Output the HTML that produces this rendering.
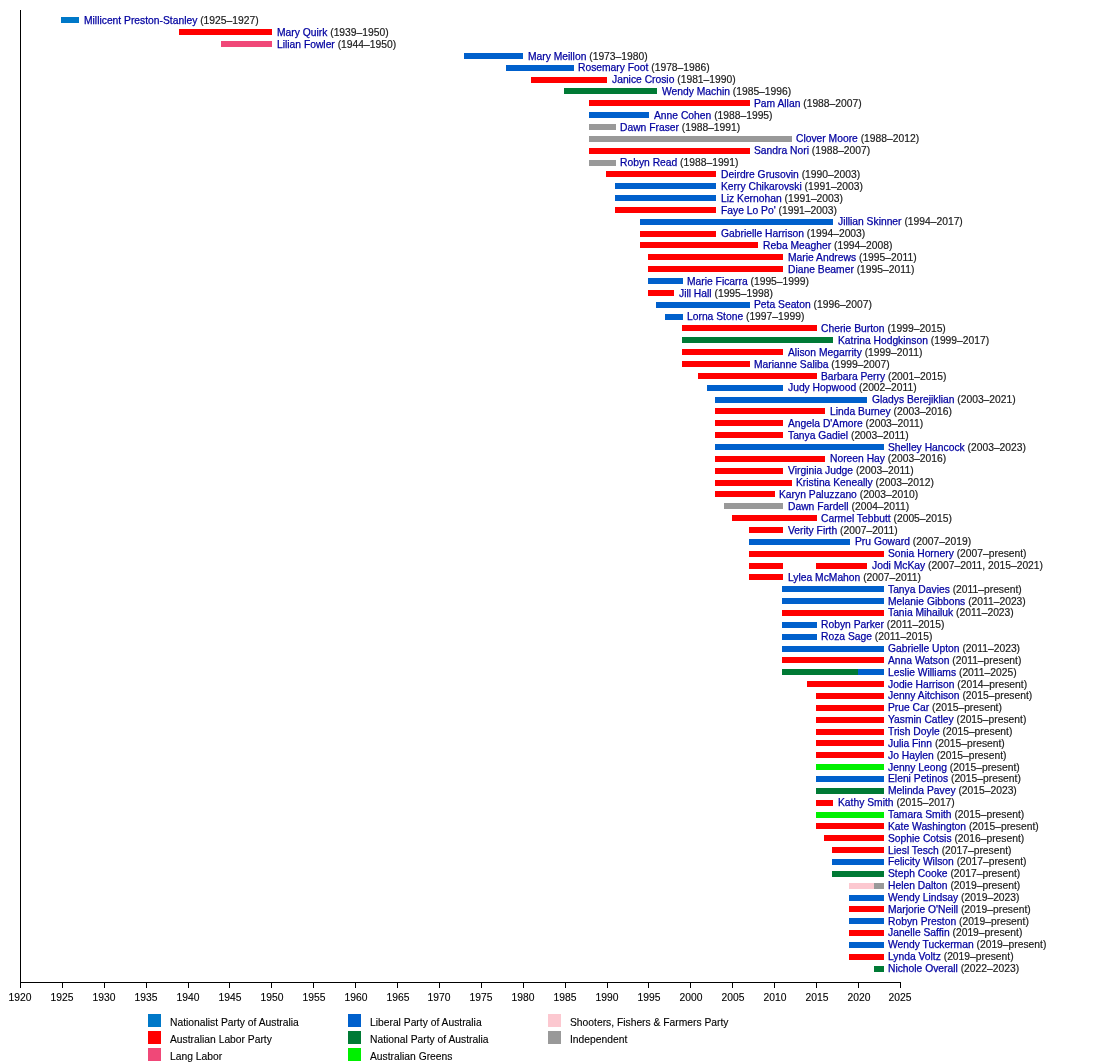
<!DOCTYPE html>
<html><head><meta charset="utf-8"><style>
html,body{margin:0;padding:0;background:#fff;}
body{width:1100px;height:1062px;position:relative;overflow:hidden;font-family:"Liberation Sans",sans-serif;}
.b{position:absolute;height:6px;}
.l{position:absolute;white-space:nowrap;-webkit-text-stroke:0.25px currentColor;will-change:transform;font-size:10.3px;line-height:12px;color:#0000a0;}
.l span{color:#1a1a1a;-webkit-text-stroke:0.18px currentColor;}
.ax{position:absolute;background:#000;}
.t{position:absolute;-webkit-text-stroke:0.12px currentColor;will-change:transform;font-size:10.3px;line-height:12px;color:#000;width:40px;text-align:center;}
.sq{position:absolute;width:13px;height:13px;}
.lg{position:absolute;-webkit-text-stroke:0.12px currentColor;will-change:transform;font-size:10.3px;line-height:12px;color:#000;white-space:nowrap;}
</style></head><body>

<div class="b" style="left:61.00px;top:17.00px;width:18.00px;background:#0078c8"></div>
<div class="l" style="left:83.87px;top:15.00px">Millicent Preston-Stanley <span>(1925–1927)</span></div>
<div class="b" style="left:179.00px;top:29.00px;width:93.00px;background:#ff0000"></div>
<div class="l" style="left:276.63px;top:27.00px">Mary Quirk <span>(1939–1950)</span></div>
<div class="b" style="left:221.00px;top:41.00px;width:51.00px;background:#f04878"></div>
<div class="l" style="left:276.63px;top:39.00px">Lilian Fowler <span>(1944–1950)</span></div>
<div class="b" style="left:464.00px;top:53.00px;width:59.00px;background:#0060cc"></div>
<div class="l" style="left:528.06px;top:51.00px">Mary Meillon <span>(1973–1980)</span></div>
<div class="b" style="left:506.00px;top:65.00px;width:68.00px;background:#0060cc"></div>
<div class="l" style="left:578.35px;top:62.00px">Rosemary Foot <span>(1978–1986)</span></div>
<div class="b" style="left:531.00px;top:77.00px;width:76.00px;background:#ff0000"></div>
<div class="l" style="left:611.87px;top:74.00px">Janice Crosio <span>(1981–1990)</span></div>
<div class="b" style="left:564.00px;top:88.00px;width:93.00px;background:#007a35"></div>
<div class="l" style="left:662.16px;top:86.00px">Wendy Machin <span>(1985–1996)</span></div>
<div class="b" style="left:589.00px;top:100.00px;width:161.00px;background:#ff0000"></div>
<div class="l" style="left:754.35px;top:98.00px">Pam Allan <span>(1988–2007)</span></div>
<div class="b" style="left:589.00px;top:112.00px;width:60.00px;background:#0060cc"></div>
<div class="l" style="left:653.78px;top:110.00px">Anne Cohen <span>(1988–1995)</span></div>
<div class="b" style="left:589.00px;top:124.00px;width:27.00px;background:#999999"></div>
<div class="l" style="left:620.25px;top:122.00px">Dawn Fraser <span>(1988–1991)</span></div>
<div class="b" style="left:589.00px;top:136.00px;width:203.00px;background:#999999"></div>
<div class="l" style="left:796.25px;top:133.00px">Clover Moore <span>(1988–2012)</span></div>
<div class="b" style="left:589.00px;top:148.00px;width:161.00px;background:#ff0000"></div>
<div class="l" style="left:754.35px;top:145.00px">Sandra Nori <span>(1988–2007)</span></div>
<div class="b" style="left:589.00px;top:160.00px;width:27.00px;background:#999999"></div>
<div class="l" style="left:620.25px;top:157.00px">Robyn Read <span>(1988–1991)</span></div>
<div class="b" style="left:606.00px;top:171.00px;width:110.00px;background:#ff0000"></div>
<div class="l" style="left:720.82px;top:169.00px">Deirdre Grusovin <span>(1990–2003)</span></div>
<div class="b" style="left:615.00px;top:183.00px;width:101.00px;background:#0060cc"></div>
<div class="l" style="left:720.82px;top:181.00px">Kerry Chikarovski <span>(1991–2003)</span></div>
<div class="b" style="left:615.00px;top:195.00px;width:101.00px;background:#0060cc"></div>
<div class="l" style="left:720.82px;top:193.00px">Liz Kernohan <span>(1991–2003)</span></div>
<div class="b" style="left:615.00px;top:207.00px;width:101.00px;background:#ff0000"></div>
<div class="l" style="left:720.82px;top:205.00px">Faye Lo Po&#39; <span>(1991–2003)</span></div>
<div class="b" style="left:640.00px;top:219.00px;width:193.00px;background:#0060cc"></div>
<div class="l" style="left:838.16px;top:216.00px">Jillian Skinner <span>(1994–2017)</span></div>
<div class="b" style="left:640.00px;top:231.00px;width:76.00px;background:#ff0000"></div>
<div class="l" style="left:720.82px;top:228.00px">Gabrielle Harrison <span>(1994–2003)</span></div>
<div class="b" style="left:640.00px;top:242.00px;width:118.00px;background:#ff0000"></div>
<div class="l" style="left:762.73px;top:240.00px">Reba Meagher <span>(1994–2008)</span></div>
<div class="b" style="left:648.00px;top:254.00px;width:135.00px;background:#ff0000"></div>
<div class="l" style="left:787.87px;top:252.00px">Marie Andrews <span>(1995–2011)</span></div>
<div class="b" style="left:648.00px;top:266.00px;width:135.00px;background:#ff0000"></div>
<div class="l" style="left:787.87px;top:264.00px">Diane Beamer <span>(1995–2011)</span></div>
<div class="b" style="left:648.00px;top:278.00px;width:35.00px;background:#0060cc"></div>
<div class="l" style="left:687.30px;top:276.00px">Marie Ficarra <span>(1995–1999)</span></div>
<div class="b" style="left:648.00px;top:290.00px;width:26.00px;background:#ff0000"></div>
<div class="l" style="left:678.92px;top:288.00px">Jill Hall <span>(1995–1998)</span></div>
<div class="b" style="left:656.00px;top:302.00px;width:94.00px;background:#0060cc"></div>
<div class="l" style="left:754.35px;top:299.00px">Peta Seaton <span>(1996–2007)</span></div>
<div class="b" style="left:665.00px;top:314.00px;width:18.00px;background:#0060cc"></div>
<div class="l" style="left:687.30px;top:311.00px">Lorna Stone <span>(1997–1999)</span></div>
<div class="b" style="left:682.00px;top:325.00px;width:135.00px;background:#ff0000"></div>
<div class="l" style="left:821.40px;top:323.00px">Cherie Burton <span>(1999–2015)</span></div>
<div class="b" style="left:682.00px;top:337.00px;width:151.00px;background:#007a35"></div>
<div class="l" style="left:838.16px;top:335.00px">Katrina Hodgkinson <span>(1999–2017)</span></div>
<div class="b" style="left:682.00px;top:349.00px;width:101.00px;background:#ff0000"></div>
<div class="l" style="left:787.87px;top:347.00px">Alison Megarrity <span>(1999–2011)</span></div>
<div class="b" style="left:682.00px;top:361.00px;width:68.00px;background:#ff0000"></div>
<div class="l" style="left:754.35px;top:359.00px">Marianne Saliba <span>(1999–2007)</span></div>
<div class="b" style="left:698.00px;top:373.00px;width:119.00px;background:#ff0000"></div>
<div class="l" style="left:821.40px;top:371.00px">Barbara Perry <span>(2001–2015)</span></div>
<div class="b" style="left:707.00px;top:385.00px;width:76.00px;background:#0060cc"></div>
<div class="l" style="left:787.87px;top:382.00px">Judy Hopwood <span>(2002–2011)</span></div>
<div class="b" style="left:715.00px;top:397.00px;width:152.00px;background:#0060cc"></div>
<div class="l" style="left:871.68px;top:394.00px">Gladys Berejiklian <span>(2003–2021)</span></div>
<div class="b" style="left:715.00px;top:408.00px;width:110.00px;background:#ff0000"></div>
<div class="l" style="left:829.78px;top:406.00px">Linda Burney <span>(2003–2016)</span></div>
<div class="b" style="left:715.00px;top:420.00px;width:68.00px;background:#ff0000"></div>
<div class="l" style="left:787.87px;top:418.00px">Angela D&#39;Amore <span>(2003–2011)</span></div>
<div class="b" style="left:715.00px;top:432.00px;width:68.00px;background:#ff0000"></div>
<div class="l" style="left:787.87px;top:430.00px">Tanya Gadiel <span>(2003–2011)</span></div>
<div class="b" style="left:715.00px;top:444.00px;width:169.00px;background:#0060cc"></div>
<div class="l" style="left:888.44px;top:442.00px">Shelley Hancock <span>(2003–2023)</span></div>
<div class="b" style="left:715.00px;top:456.00px;width:110.00px;background:#ff0000"></div>
<div class="l" style="left:829.78px;top:453.00px">Noreen Hay <span>(2003–2016)</span></div>
<div class="b" style="left:715.00px;top:468.00px;width:68.00px;background:#ff0000"></div>
<div class="l" style="left:787.87px;top:465.00px">Virginia Judge <span>(2003–2011)</span></div>
<div class="b" style="left:715.00px;top:480.00px;width:77.00px;background:#ff0000"></div>
<div class="l" style="left:796.25px;top:477.00px">Kristina Keneally <span>(2003–2012)</span></div>
<div class="b" style="left:715.00px;top:491.00px;width:60.00px;background:#ff0000"></div>
<div class="l" style="left:779.49px;top:489.00px">Karyn Paluzzano <span>(2003–2010)</span></div>
<div class="b" style="left:724.00px;top:503.00px;width:59.00px;background:#999999"></div>
<div class="l" style="left:787.87px;top:501.00px">Dawn Fardell <span>(2004–2011)</span></div>
<div class="b" style="left:732.00px;top:515.00px;width:85.00px;background:#ff0000"></div>
<div class="l" style="left:821.40px;top:513.00px">Carmel Tebbutt <span>(2005–2015)</span></div>
<div class="b" style="left:749.00px;top:527.00px;width:34.00px;background:#ff0000"></div>
<div class="l" style="left:787.87px;top:525.00px">Verity Firth <span>(2007–2011)</span></div>
<div class="b" style="left:749.00px;top:539.00px;width:101.00px;background:#0060cc"></div>
<div class="l" style="left:854.92px;top:536.00px">Pru Goward <span>(2007–2019)</span></div>
<div class="b" style="left:749.00px;top:551.00px;width:135.00px;background:#ff0000"></div>
<div class="l" style="left:888.44px;top:548.00px">Sonia Hornery <span>(2007–present)</span></div>
<div class="b" style="left:749.00px;top:563.00px;width:34.00px;background:#ff0000"></div>
<div class="b" style="left:816.00px;top:563.00px;width:51.00px;background:#ff0000"></div>
<div class="l" style="left:871.68px;top:560.00px">Jodi McKay <span>(2007–2011, 2015–2021)</span></div>
<div class="b" style="left:749.00px;top:574.00px;width:34.00px;background:#ff0000"></div>
<div class="l" style="left:787.87px;top:572.00px">Lylea McMahon <span>(2007–2011)</span></div>
<div class="b" style="left:782.00px;top:586.00px;width:102.00px;background:#0060cc"></div>
<div class="l" style="left:888.44px;top:584.00px">Tanya Davies <span>(2011–present)</span></div>
<div class="b" style="left:782.00px;top:598.00px;width:102.00px;background:#0060cc"></div>
<div class="l" style="left:888.44px;top:596.00px">Melanie Gibbons <span>(2011–2023)</span></div>
<div class="b" style="left:782.00px;top:610.00px;width:102.00px;background:#ff0000"></div>
<div class="l" style="left:888.44px;top:607.00px">Tania Mihailuk <span>(2011–2023)</span></div>
<div class="b" style="left:782.00px;top:622.00px;width:35.00px;background:#0060cc"></div>
<div class="l" style="left:821.40px;top:619.00px">Robyn Parker <span>(2011–2015)</span></div>
<div class="b" style="left:782.00px;top:634.00px;width:35.00px;background:#0060cc"></div>
<div class="l" style="left:821.40px;top:631.00px">Roza Sage <span>(2011–2015)</span></div>
<div class="b" style="left:782.00px;top:646.00px;width:102.00px;background:#0060cc"></div>
<div class="l" style="left:888.44px;top:643.00px">Gabrielle Upton <span>(2011–2023)</span></div>
<div class="b" style="left:782.00px;top:657.00px;width:102.00px;background:#ff0000"></div>
<div class="l" style="left:888.44px;top:655.00px">Anna Watson <span>(2011–present)</span></div>
<div class="b" style="left:782.00px;top:669.00px;width:77.00px;background:#007a35"></div>
<div class="b" style="left:858.00px;top:669.00px;width:26.00px;background:#0060cc"></div>
<div class="l" style="left:888.44px;top:667.00px">Leslie Williams <span>(2011–2025)</span></div>
<div class="b" style="left:807.00px;top:681.00px;width:77.00px;background:#ff0000"></div>
<div class="l" style="left:888.44px;top:679.00px">Jodie Harrison <span>(2014–present)</span></div>
<div class="b" style="left:816.00px;top:693.00px;width:68.00px;background:#ff0000"></div>
<div class="l" style="left:888.44px;top:690.00px">Jenny Aitchison <span>(2015–present)</span></div>
<div class="b" style="left:816.00px;top:705.00px;width:68.00px;background:#ff0000"></div>
<div class="l" style="left:888.44px;top:702.00px">Prue Car <span>(2015–present)</span></div>
<div class="b" style="left:816.00px;top:717.00px;width:68.00px;background:#ff0000"></div>
<div class="l" style="left:888.44px;top:714.00px">Yasmin Catley <span>(2015–present)</span></div>
<div class="b" style="left:816.00px;top:729.00px;width:68.00px;background:#ff0000"></div>
<div class="l" style="left:888.44px;top:726.00px">Trish Doyle <span>(2015–present)</span></div>
<div class="b" style="left:816.00px;top:740.00px;width:68.00px;background:#ff0000"></div>
<div class="l" style="left:888.44px;top:738.00px">Julia Finn <span>(2015–present)</span></div>
<div class="b" style="left:816.00px;top:752.00px;width:68.00px;background:#ff0000"></div>
<div class="l" style="left:888.44px;top:750.00px">Jo Haylen <span>(2015–present)</span></div>
<div class="b" style="left:816.00px;top:764.00px;width:68.00px;background:#00f000"></div>
<div class="l" style="left:888.44px;top:762.00px">Jenny Leong <span>(2015–present)</span></div>
<div class="b" style="left:816.00px;top:776.00px;width:68.00px;background:#0060cc"></div>
<div class="l" style="left:888.44px;top:773.00px">Eleni Petinos <span>(2015–present)</span></div>
<div class="b" style="left:816.00px;top:788.00px;width:68.00px;background:#007a35"></div>
<div class="l" style="left:888.44px;top:785.00px">Melinda Pavey <span>(2015–2023)</span></div>
<div class="b" style="left:816.00px;top:800.00px;width:17.00px;background:#ff0000"></div>
<div class="l" style="left:838.16px;top:797.00px">Kathy Smith <span>(2015–2017)</span></div>
<div class="b" style="left:816.00px;top:812.00px;width:68.00px;background:#00f000"></div>
<div class="l" style="left:888.44px;top:809.00px">Tamara Smith <span>(2015–present)</span></div>
<div class="b" style="left:816.00px;top:823.00px;width:68.00px;background:#ff0000"></div>
<div class="l" style="left:888.44px;top:821.00px">Kate Washington <span>(2015–present)</span></div>
<div class="b" style="left:824.00px;top:835.00px;width:60.00px;background:#ff0000"></div>
<div class="l" style="left:888.44px;top:833.00px">Sophie Cotsis <span>(2016–present)</span></div>
<div class="b" style="left:832.00px;top:847.00px;width:52.00px;background:#ff0000"></div>
<div class="l" style="left:888.44px;top:845.00px">Liesl Tesch <span>(2017–present)</span></div>
<div class="b" style="left:832.00px;top:859.00px;width:52.00px;background:#0060cc"></div>
<div class="l" style="left:888.44px;top:856.00px">Felicity Wilson <span>(2017–present)</span></div>
<div class="b" style="left:832.00px;top:871.00px;width:52.00px;background:#007a35"></div>
<div class="l" style="left:888.44px;top:868.00px">Steph Cooke <span>(2017–present)</span></div>
<div class="b" style="left:849.00px;top:883.00px;width:26.00px;background:#fcc8d0"></div>
<div class="b" style="left:874.00px;top:883.00px;width:10.00px;background:#999999"></div>
<div class="l" style="left:888.44px;top:880.00px">Helen Dalton <span>(2019–present)</span></div>
<div class="b" style="left:849.00px;top:895.00px;width:35.00px;background:#0060cc"></div>
<div class="l" style="left:888.44px;top:892.00px">Wendy Lindsay <span>(2019–2023)</span></div>
<div class="b" style="left:849.00px;top:906.00px;width:35.00px;background:#ff0000"></div>
<div class="l" style="left:888.44px;top:904.00px">Marjorie O&#39;Neill <span>(2019–present)</span></div>
<div class="b" style="left:849.00px;top:918.00px;width:35.00px;background:#0060cc"></div>
<div class="l" style="left:888.44px;top:916.00px">Robyn Preston <span>(2019–present)</span></div>
<div class="b" style="left:849.00px;top:930.00px;width:35.00px;background:#ff0000"></div>
<div class="l" style="left:888.44px;top:927.00px">Janelle Saffin <span>(2019–present)</span></div>
<div class="b" style="left:849.00px;top:942.00px;width:35.00px;background:#0060cc"></div>
<div class="l" style="left:888.44px;top:939.00px">Wendy Tuckerman <span>(2019–present)</span></div>
<div class="b" style="left:849.00px;top:954.00px;width:35.00px;background:#ff0000"></div>
<div class="l" style="left:888.44px;top:951.00px">Lynda Voltz <span>(2019–present)</span></div>
<div class="b" style="left:874.00px;top:966.00px;width:10.00px;background:#007a35"></div>
<div class="l" style="left:888.44px;top:963.00px">Nichole Overall <span>(2022–2023)</span></div>
<div class="ax" style="left:20px;top:10px;width:1px;height:973px"></div>
<div class="ax" style="left:20px;top:982px;width:881px;height:1px"></div>
<div class="ax" style="left:19.90px;top:983px;width:1px;height:5px"></div>
<div class="t" style="left:0.40px;top:992px">1920</div>
<div class="ax" style="left:61.80px;top:983px;width:1px;height:5px"></div>
<div class="t" style="left:42.30px;top:992px">1925</div>
<div class="ax" style="left:103.71px;top:983px;width:1px;height:5px"></div>
<div class="t" style="left:84.21px;top:992px">1930</div>
<div class="ax" style="left:145.62px;top:983px;width:1px;height:5px"></div>
<div class="t" style="left:126.12px;top:992px">1935</div>
<div class="ax" style="left:187.52px;top:983px;width:1px;height:5px"></div>
<div class="t" style="left:168.02px;top:992px">1940</div>
<div class="ax" style="left:229.43px;top:983px;width:1px;height:5px"></div>
<div class="t" style="left:209.93px;top:992px">1945</div>
<div class="ax" style="left:271.33px;top:983px;width:1px;height:5px"></div>
<div class="t" style="left:251.83px;top:992px">1950</div>
<div class="ax" style="left:313.24px;top:983px;width:1px;height:5px"></div>
<div class="t" style="left:293.74px;top:992px">1955</div>
<div class="ax" style="left:355.14px;top:983px;width:1px;height:5px"></div>
<div class="t" style="left:335.64px;top:992px">1960</div>
<div class="ax" style="left:397.04px;top:983px;width:1px;height:5px"></div>
<div class="t" style="left:377.54px;top:992px">1965</div>
<div class="ax" style="left:438.95px;top:983px;width:1px;height:5px"></div>
<div class="t" style="left:419.45px;top:992px">1970</div>
<div class="ax" style="left:480.86px;top:983px;width:1px;height:5px"></div>
<div class="t" style="left:461.36px;top:992px">1975</div>
<div class="ax" style="left:522.76px;top:983px;width:1px;height:5px"></div>
<div class="t" style="left:503.26px;top:992px">1980</div>
<div class="ax" style="left:564.66px;top:983px;width:1px;height:5px"></div>
<div class="t" style="left:545.16px;top:992px">1985</div>
<div class="ax" style="left:606.57px;top:983px;width:1px;height:5px"></div>
<div class="t" style="left:587.07px;top:992px">1990</div>
<div class="ax" style="left:648.48px;top:983px;width:1px;height:5px"></div>
<div class="t" style="left:628.98px;top:992px">1995</div>
<div class="ax" style="left:690.38px;top:983px;width:1px;height:5px"></div>
<div class="t" style="left:670.88px;top:992px">2000</div>
<div class="ax" style="left:732.28px;top:983px;width:1px;height:5px"></div>
<div class="t" style="left:712.78px;top:992px">2005</div>
<div class="ax" style="left:774.19px;top:983px;width:1px;height:5px"></div>
<div class="t" style="left:754.69px;top:992px">2010</div>
<div class="ax" style="left:816.10px;top:983px;width:1px;height:5px"></div>
<div class="t" style="left:796.60px;top:992px">2015</div>
<div class="ax" style="left:858.00px;top:983px;width:1px;height:5px"></div>
<div class="t" style="left:838.50px;top:992px">2020</div>
<div class="ax" style="left:899.90px;top:983px;width:1px;height:5px"></div>
<div class="t" style="left:880.40px;top:992px">2025</div>
<div class="sq" style="left:148px;top:1014px;background:#0078c8"></div>
<div class="lg" style="left:170px;top:1017px">Nationalist Party of Australia</div>
<div class="sq" style="left:148px;top:1031px;background:#ff0000"></div>
<div class="lg" style="left:170px;top:1034px">Australian Labor Party</div>
<div class="sq" style="left:148px;top:1048px;background:#f04878"></div>
<div class="lg" style="left:170px;top:1051px">Lang Labor</div>
<div class="sq" style="left:348px;top:1014px;background:#0060cc"></div>
<div class="lg" style="left:370px;top:1017px">Liberal Party of Australia</div>
<div class="sq" style="left:348px;top:1031px;background:#007a35"></div>
<div class="lg" style="left:370px;top:1034px">National Party of Australia</div>
<div class="sq" style="left:348px;top:1048px;background:#00f000"></div>
<div class="lg" style="left:370px;top:1051px">Australian Greens</div>
<div class="sq" style="left:548px;top:1014px;background:#fcc8d0"></div>
<div class="lg" style="left:570px;top:1017px">Shooters, Fishers &amp; Farmers Party</div>
<div class="sq" style="left:548px;top:1031px;background:#999999"></div>
<div class="lg" style="left:570px;top:1034px">Independent</div>
</body></html>
